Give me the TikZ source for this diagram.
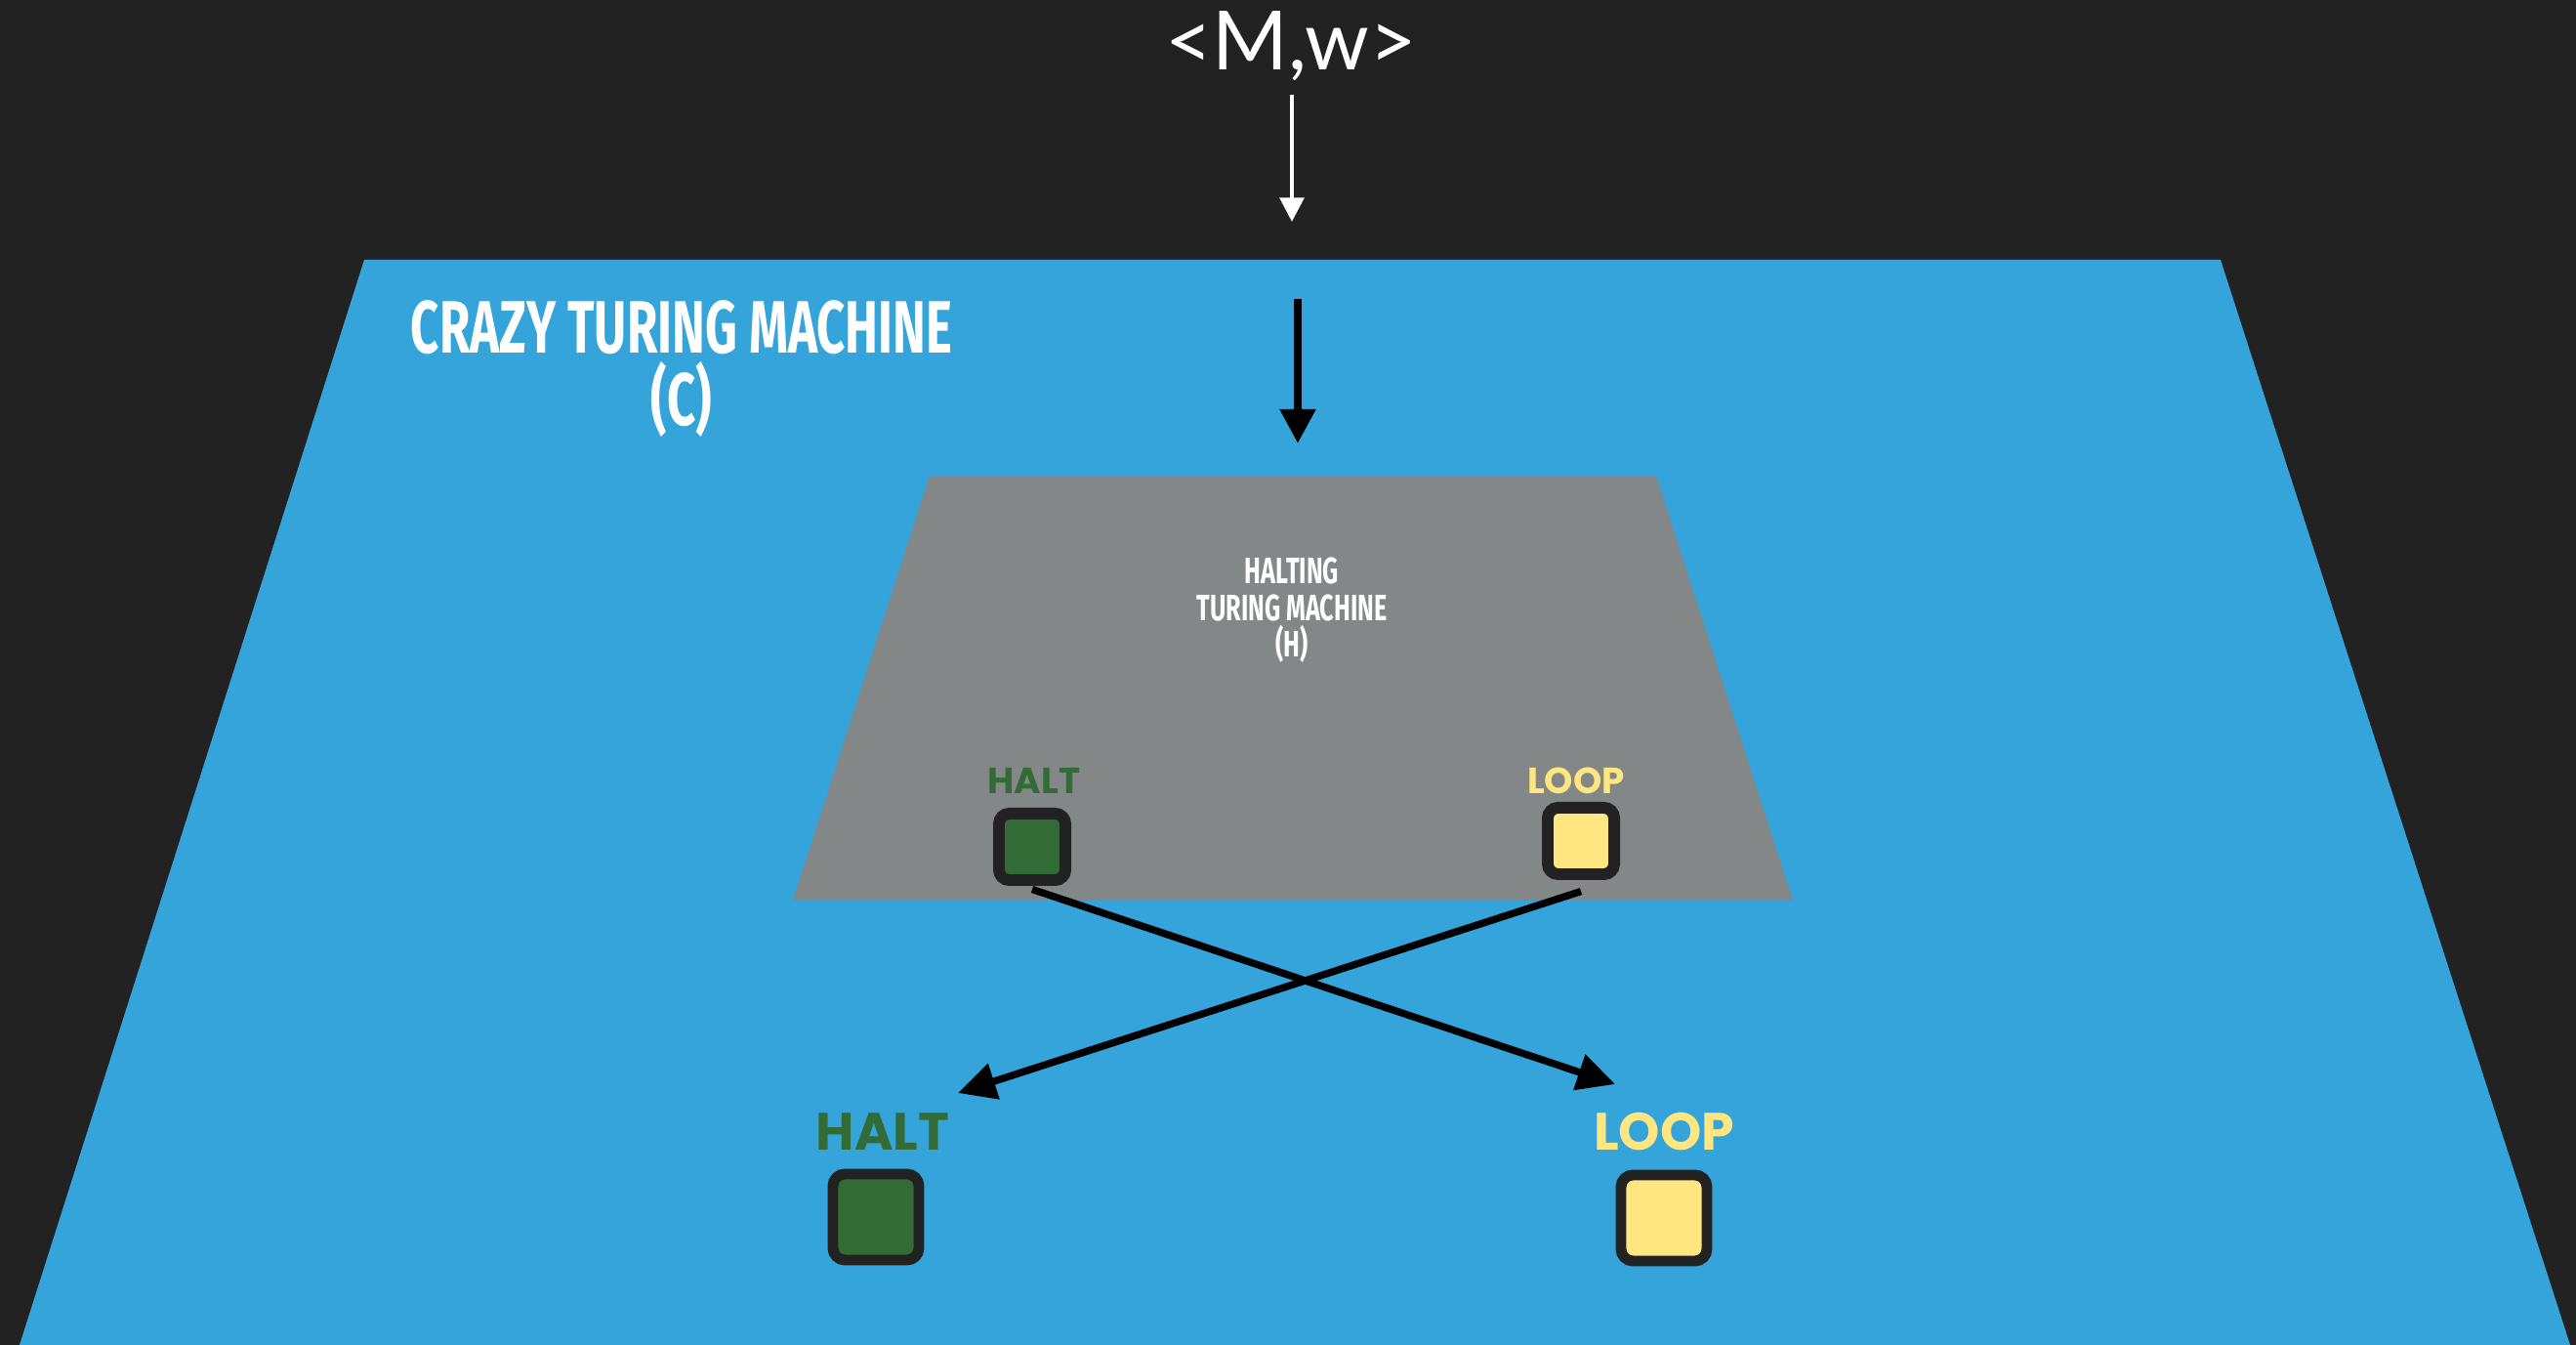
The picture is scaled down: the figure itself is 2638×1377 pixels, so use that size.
\documentclass[tikz,border=0pt]{standalone}
\usepackage{fontspec}
\setmainfont{Lato}
\newfontfamily\dinfont[FakeStretch=0.67]{Fira Sans}
\newfontfamily\geofont{Poppins}
\usetikzlibrary{arrows.meta}
\definecolor{bgdark}{HTML}{222222}
\definecolor{machineblue}{HTML}{34A4DB}
\definecolor{innergray}{HTML}{848788}
\definecolor{haltgreen}{HTML}{336B36}
\definecolor{loopyellow}{HTML}{FFE680}
\definecolor{boxedge}{HTML}{222222}

\begin{document}
\begin{tikzpicture}[x=0.01cm,y=-0.01cm,
  smallbox/.style={draw=boxedge,line width=3.4pt,rounded corners=3pt,
    minimum size=0.68cm,inner sep=0pt},
  bigbox/.style={draw=boxedge,line width=3.1pt,rounded corners=3.5pt,
    minimum size=0.88cm,inner sep=0pt},
  smalltag/.style={font=\geofont\bfseries\fontsize{10.6pt}{12pt}\selectfont,
    anchor=base,inner sep=0pt},
  bigtag/.style={font=\geofont\bfseries\fontsize{15.3pt}{17pt}\selectfont,
    anchor=base,inner sep=0pt},
  crossarrow/.style={line width=2.1pt,black,
    -{Triangle[length=11pt,width=10.5pt]}},
  feedarrow/.style={line width=2.3pt,black,
    -{Triangle[length=10pt,width=10pt]}},
  inputarrow/.style={line width=1.15pt,white,
    -{Triangle[length=7pt,width=7pt]}}]

% canvas
\useasboundingbox (0,0) rectangle (2638,1377);
\fill[bgdark] (0,0) rectangle (2638,1377);

% outer machine C
\fill[machineblue] (373,266) -- (2274,266) -- (2632,1377) -- (20,1377) -- cycle;

% inner machine H
\fill[innergray] (952,487) -- (1696,487) -- (1836,922) -- (812,922) -- cycle;

% input word
\node[text=white,font=\fontsize{23.8pt}{26pt}\selectfont,anchor=base,inner sep=0pt]
  (mw) at (1322,72) {<M,w>};
\coordinate (inTop) at (1323,97);
\coordinate (inTip) at (1323,227);
\draw[inputarrow] (inTop) -- (inTip);

\coordinate (feedTop) at (1329,306);
\coordinate (feedTip) at (1329,454);
\draw[feedarrow] (feedTop) -- (feedTip);

% titles
\node[text=white,font=\dinfont\bfseries\fontsize{21.6pt}{21pt}\selectfont,
  align=center,anchor=north,inner sep=0pt] (ctitle) at (698,307)
  {CRAZY TURING MACHINE\\(C)};
\node[text=white,font=\dinfont\bfseries\fontsize{10.7pt}{10.7pt}\selectfont,
  align=center,anchor=north,inner sep=0pt] (htitle) at (1323,570)
  {HALTING\\TURING MACHINE\\(H)};

% outputs of H
\node[smalltag,text=haltgreen] (hhalt) at (1059,813) {HALT};
\node[smallbox,fill=haltgreen] (hs) at (1057,867) {};
\node[smalltag,text=loopyellow] (hloop) at (1614,813) {LOOP};
\node[smallbox,fill=loopyellow] (ls) at (1619,861) {};

% outputs of C
\node[bigtag,text=haltgreen] (chalt) at (904,1178) {HALT};
\node[bigbox,fill=haltgreen] (hb) at (897,1246) {};
\node[bigtag,text=loopyellow] (cloop) at (1704,1178) {LOOP};
\node[bigbox,fill=loopyellow] (lb) at (1704,1247) {};

% swapped wiring
\coordinate (toLoop) at (1654,1110);
\coordinate (toHalt) at (981,1119);
\draw[crossarrow] ([yshift=-1pt]hs.south) -- (toLoop);
\draw[crossarrow] ([yshift=-3.3pt]ls.south) -- (toHalt);
\end{tikzpicture}
\end{document}
